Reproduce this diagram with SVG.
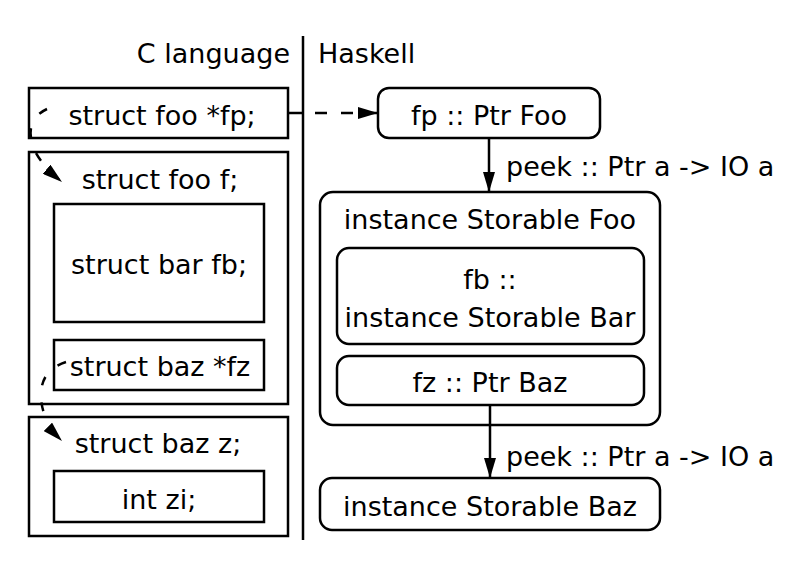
<svg xmlns="http://www.w3.org/2000/svg" width="800" height="566" viewBox="0 0 800 566">
<defs>
<style>
text{font-family:"DejaVu Sans","Liberation Sans",sans-serif;font-size:27px;fill:#000}
.c{text-anchor:middle}
.box{fill:#fff;stroke:#000;stroke-width:2.5}
.ln{fill:none;stroke:#000;stroke-width:2.5}
.dash{fill:none;stroke:#000;stroke-width:2.5;stroke-dasharray:12,14}
.dash2{fill:none;stroke:#000;stroke-width:2.5;stroke-dasharray:9,17}
</style>
<marker id="ah" viewBox="0 0 20 12" refX="20" refY="6" markerWidth="20" markerHeight="12" markerUnits="userSpaceOnUse" orient="auto">
<path d="M0,0 L20,6 L0,12 Z" fill="#000"/>
</marker>
</defs>
<rect width="800" height="566" fill="#fff"/>
<g id="headers">
<text x="290" y="63" style="text-anchor:end">C language</text>
<text x="318" y="63">Haskell</text>
<line class="ln" x1="303" y1="36" x2="303" y2="540"/>
</g>
<g id="c-fp">
<rect class="box" x="29" y="88" width="259" height="50"/>
<text class="c" x="162" y="125">struct foo *fp;</text>
</g>
<g id="c-f">
<rect class="box" x="29" y="152" width="259" height="252"/>
<text class="c" x="160" y="189">struct foo f;</text>
</g>
<g id="c-fb">
<rect class="box" x="54" y="204" width="210" height="118"/>
<text class="c" x="159" y="274">struct bar fb;</text>
</g>
<g id="c-fz">
<rect class="box" x="54" y="340" width="210" height="50"/>
<text class="c" x="160" y="376">struct baz *fz</text>
</g>
<g id="c-z">
<rect class="box" x="29" y="417" width="259" height="119"/>
<text class="c" x="158" y="453">struct baz z;</text>
</g>
<g id="c-zi">
<rect class="box" x="54" y="471" width="210" height="51"/>
<text class="c" x="159" y="509">int zi;</text>
</g>
<g id="h-fp">
<rect class="box" x="378" y="88" width="222" height="50" rx="11"/>
<text class="c" x="489" y="125">fp :: Ptr Foo</text>
</g>
<g id="h-foo">
<rect class="box" x="320" y="192" width="340" height="233" rx="13"/>
<text class="c" x="490" y="229">instance Storable Foo</text>
</g>
<g id="h-fb">
<rect class="box" x="337" y="248" width="307" height="96" rx="12"/>
<text class="c" x="490" y="289">fb ::</text>
<text class="c" x="490" y="327">instance Storable Bar</text>
</g>
<g id="h-fz">
<rect class="box" x="337" y="356" width="307" height="49" rx="12"/>
<text class="c" x="490" y="392">fz :: Ptr Baz</text>
</g>
<g id="h-baz">
<rect class="box" x="320" y="478" width="340" height="52" rx="12"/>
<text class="c" x="490" y="516">instance Storable Baz</text>
</g>
<g id="connectors">
<line class="ln" x1="288" y1="113" x2="303" y2="113"/>
<line class="dash" x1="315" y1="113" x2="378" y2="113" marker-end="url(#ah)"/>
<line class="ln" x1="489" y1="138" x2="489" y2="192" marker-end="url(#ah)"/>
<line class="ln" x1="490" y1="405" x2="490" y2="478" marker-end="url(#ah)"/>
<path class="dash2" d="M47,109 Q28,118 31,138 Q33,158 62,182" marker-end="url(#ah)"/>
<path class="dash2" d="M66,362 Q41,370 41,395 Q41,420 62,441" marker-end="url(#ah)"/>
<text x="506" y="176">peek :: Ptr a -&gt; IO a</text>
<text x="506" y="466">peek :: Ptr a -&gt; IO a</text>
</g>
</svg>
